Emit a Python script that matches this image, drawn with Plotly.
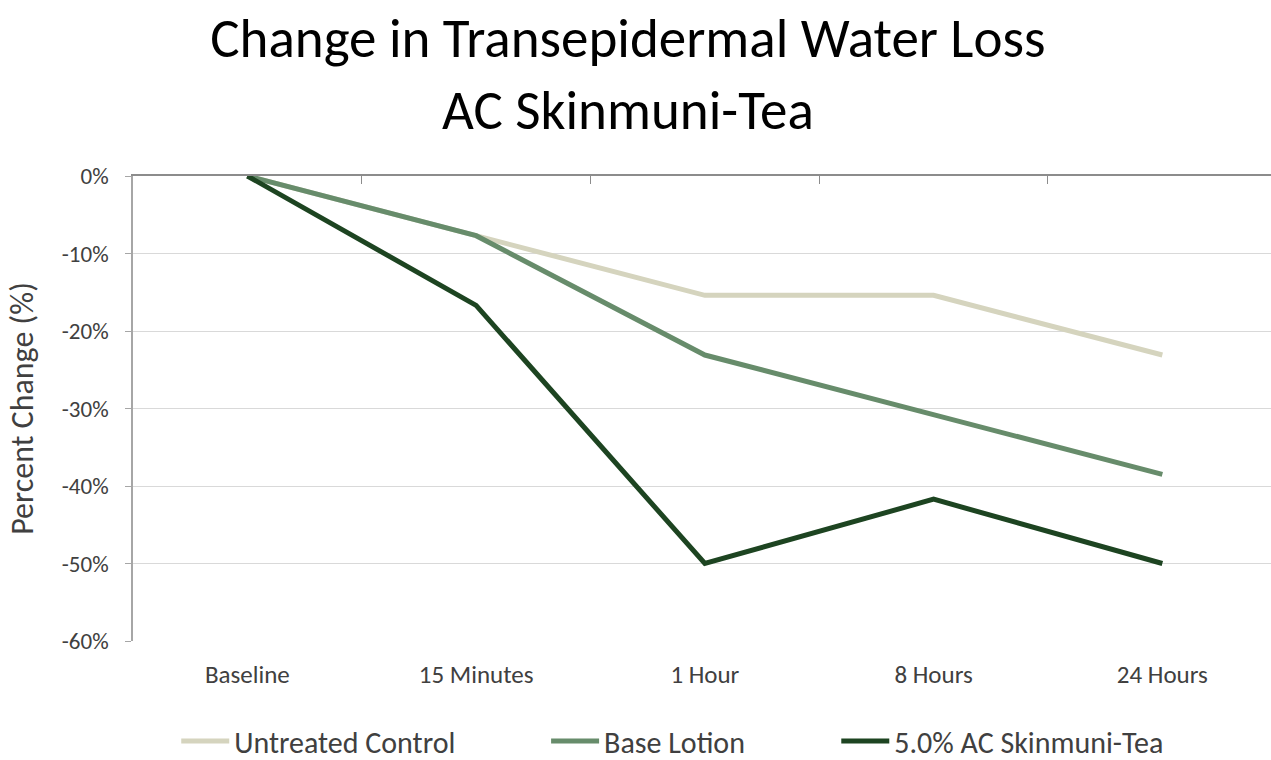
import plotly.graph_objects as go

categories = ["Baseline", "15 Minutes", "1 Hour", "8 Hours", "24 Hours"]
untreated_control = [0.0, -7.7, -15.4, -15.4, -23.1]
base_lotion = [0.0, -7.7, -23.1, -30.8, -38.5]
skinmuni_tea = [0.0, -16.7, -50.0, -41.7, -50.0]
y_ticks = [0, -10, -20, -30, -40, -50, -60]
y_tick_labels = ["0%", "-10%", "-20%", "-30%", "-40%", "-50%", "-60%"]

FONT = "Carlito, Lato, sans-serif"
TITLE_FONT = "Carlito, 'Lato Light', Lato, sans-serif"
series = [
    ("Untreated Control", untreated_control, "#D5D4BE", "legend"),
    ("Base Lotion", base_lotion, "#678C6B", "legend2"),
    ("5.0% AC Skinmuni-Tea", skinmuni_tea, "#1D4421", "legend3"),
]

fig = go.Figure()
for name, vals, color, lg in series:
    fig.add_trace(go.Scatter(
        x=categories, y=vals, name=name, mode="lines",
        line=dict(color=color, width=5), legend=lg,
    ))

# helper trace for the top (0%) axis with boundary ticks
fig.add_trace(go.Scatter(x=categories, y=[None] * len(categories), xaxis="x2",
                         showlegend=False, hoverinfo="skip"))

X_RANGE = [-0.5, 4.475]
legend_common = dict(orientation="h", yanchor="middle", y=-0.215, xanchor="left",
                     font=dict(family=FONT, size=30, color="#404040"),
                     bgcolor="rgba(0,0,0,0)", itemwidth=48)
fig.update_layout(
    width=1271, height=760,
    margin=dict(l=133, r=0, t=176, b=119, autoexpand=False),
    paper_bgcolor="white", plot_bgcolor="white",
    title=dict(text="Change in Transepidermal Water Loss<br>AC Skinmuni-Tea",
               x=0.494, xanchor="center", y=0.925, yanchor="top",
               font=dict(family=TITLE_FONT, size=55, color="#000000", weight=300)),
    xaxis=dict(type="category", categoryorder="array", categoryarray=categories,
               range=X_RANGE, showgrid=False, showline=False, ticks="",
               automargin=False,
               tickfont=dict(family=FONT, size=25, color="#404040"),
               ticklabelstandoff=16),
    xaxis2=dict(type="category", categoryorder="array", categoryarray=categories,
                range=X_RANGE, overlaying="x", side="top", anchor="y",
                automargin=False,
                showgrid=False, showline=True, linecolor="#8C8C8C", linewidth=1.5,
                ticks="inside", tickson="boundaries", ticklen=8, tickcolor="#8C8C8C",
                showticklabels=False),
    yaxis=dict(range=[-60, 0], tickvals=y_ticks, ticktext=y_tick_labels,
               automargin=False,
               showgrid=True, gridcolor="#D9D9D9", gridwidth=1,
               showline=True, linecolor="#A6A6A6", linewidth=1.5,
               ticks="outside", ticklen=6, tickcolor="#A6A6A6",
               zeroline=False,
               tickfont=dict(family=FONT, size=23, color="#404040"),
               ticklabelstandoff=12,
               title=dict(text="Percent Change (%)", standoff=19,
                          font=dict(family=FONT, size=32, color="#404040"))),
    legend=dict(x=0.038, **legend_common),
    legend2=dict(x=0.363, **legend_common),
    legend3=dict(x=0.618, **legend_common),
    showlegend=True,
)

fig.write_html("out.html", config={"displayModeBar": False},
               post_script="document.body.style.margin='0';document.body.style.overflow='hidden';")
